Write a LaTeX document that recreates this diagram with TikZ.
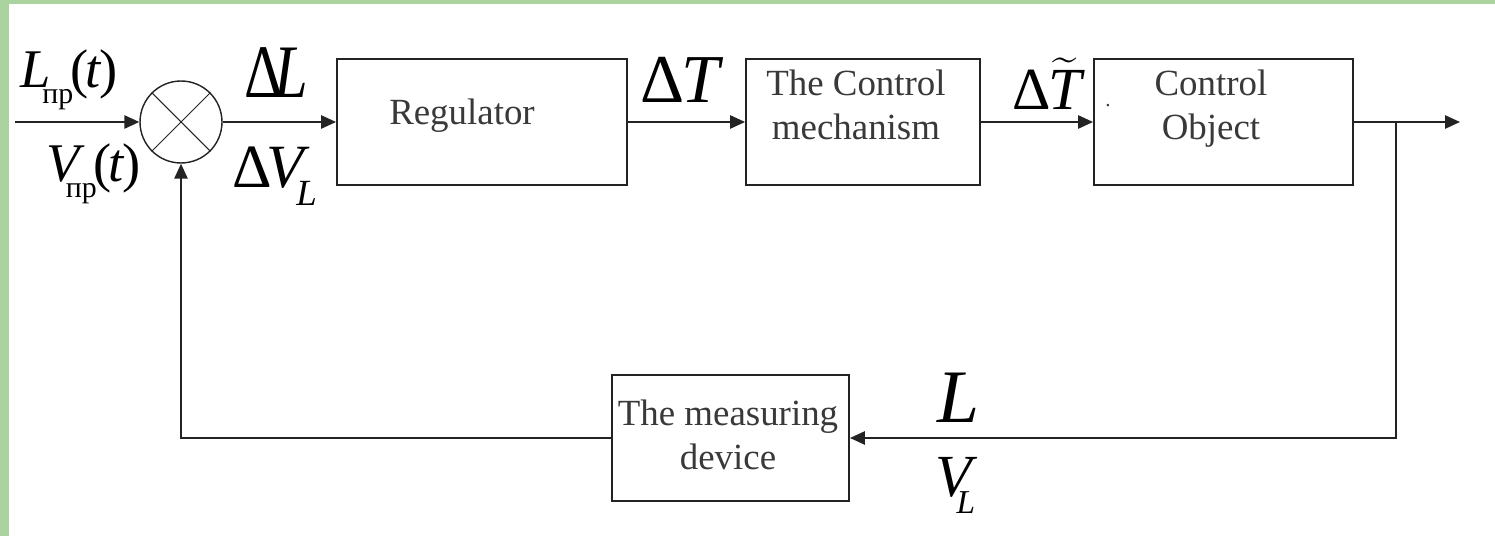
\documentclass[tikz,border=0pt]{standalone}
\usepackage{fontspec}
\setmainfont{Liberation Serif}
\usepackage{amsmath}
\usepackage{graphicx}
\usepackage{tikz}
\usetikzlibrary{calc, arrows.meta}
\usetikzlibrary{positioning}

\definecolor{bggreen}{RGB}{170,211,160}
\definecolor{ink}{RGB}{35,35,35}

% font of a given size, with no extra leading
\newcommand{\fsz}[1]{\fontsize{#1}{#1}\selectfont}
% lowered index for the signal names
\newcommand{\idx}[2]{\raisebox{-.28em}{\fsz{#1}#2}}

\tikzset{
    blk/.style={draw=ink, line width=1.1pt, minimum height=2.52cm, inner sep=0pt},
    sig/.style={draw=ink, line width=1.1pt, -{Triangle[length=8.5pt,width=7.5pt]}},
    txt/.style={font=\fontsize{21}{25.6}\selectfont, text=ink!90, inner sep=0pt, align=center},
    lab/.style={inner sep=0pt},
}

\begin{document}
\begin{tikzpicture}[x=0.02cm, y=-0.02cm]
    \useasboundingbox (0,0) rectangle (1495,536);
    \fill[bggreen] (0,0) rectangle (1495,536);
    \fill[white] (9,4) rectangle (1495,536);

    % comparing element
    \node[circle, draw=ink, line width=0.8pt, minimum size=1.64cm, inner sep=0pt] (S) at (181,122) {};
    \draw[ink, line width=0.6pt] (S.north west) -- (S.south east);
    \draw[ink, line width=0.6pt] (S.north east) -- (S.south west);

    % blocks
    \node[blk, minimum width=5.8cm] (reg) at (482,122) {};
    \node[blk, minimum width=4.68cm] (mech) at (863,122) {};
    \node[blk, minimum width=5.18cm] (obj) at (1223.5,122) {};
    \node[blk, minimum width=4.74cm] (meas) at (730.5,438) {};

    % base of a two-line text is its last line
    \node[txt, anchor=base] (regtxt) at (462,125) {Regulator};
    \node[txt, anchor=base] (mechtxt) at (856,140) {The Control\\mechanism};
    \node[txt, anchor=base] (objtxt) at (1211,140) {Control\\Object};
    \node[txt, anchor=base] (meastxt) at (728,470) {The measuring\\device};
    \node[txt, anchor=base, font=\fsz{12}] (dot) at (1108,107) {.};

    \coordinate (in) at (15,122);
    \coordinate (br) at (1396,122);
    \coordinate (out) at (1460,122);

    % signal flow
    \draw[sig] (in) -- (S);
    \draw[sig] (S) -- (reg);
    \draw[sig] (reg) -- (mech);
    \draw[sig] (mech) -- (obj);
    \draw[sig] (obj) -- (out);
    \draw[sig] (br) |- (meas);
    \draw[sig] (meas) -| (S);

    % signal names
    \node[lab, anchor=base west, font=\fsz{31}] (Lin) at (20,88)
        {\textit{L}\kern-.15em\idx{17}{пр}\kern-.05em(\kern-.06em\textit{t}\kern-.04em)};
    \node[lab, anchor=base west, font=\fsz{31}] (Vin) at (46,182)
        {\textit{V}\kern-.35em\idx{17}{пр}\kern-.05em(\kern-.06em\textit{t}\kern-.04em)};
    \node[lab, anchor=base, font=\fsz{43}] (dL) at (276,98)
        {\scalebox{0.8}[1]{Δ\kern-.15em\textit{L}}};
    \node[lab, anchor=base west, font=\fsz{35}] (dV) at (232,188)
        {Δ\kern-.08em\textit{V}\kern-.23em\idx{21}{\textit{L}}};
    \node[lab, anchor=base, font=\fsz{39}] (dT) at (682,103) {Δ\kern-.04em\textit{T}};
    \node[lab, anchor=base, font=\fsz{34}] (dTt) at (1047,110)
        {Δ\kern-.04em$\widetilde{\text{\itshape T}}$};
    \node[lab, anchor=base, font=\fsz{43}] (Lfb) at (958,423) {\textit{L}};
    \node[lab, anchor=base west, font=\fsz{34}] (Vfb) at (935,497)
        {\textit{V}\kern-.35em\idx{19}{\textit{L}}};
\end{tikzpicture}
\end{document}
